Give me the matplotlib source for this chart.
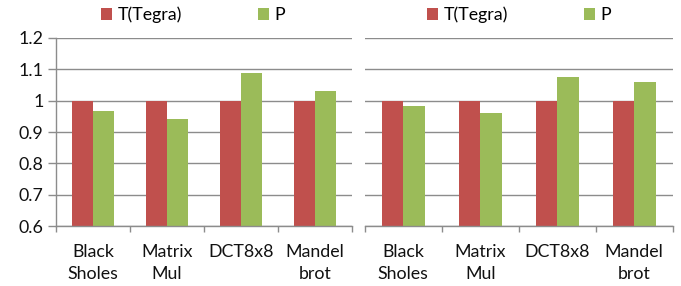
import matplotlib
matplotlib.use("Agg")
import matplotlib.pyplot as plt
import numpy as np
from matplotlib.patches import Patch

plt.rcParams['font.family'] = ['Lato', 'DejaVu Sans']

categories = ["Black\nSholes", "Matrix\nMul", "DCT8x8", "Mandel\nbrot"]
series_names = ["T(Tegra)", "P"]
left_T = [1.0, 1.0, 1.0, 1.0]
left_P = [0.966, 0.941, 1.089, 1.032]
right_T = [1.0, 1.0, 1.0, 1.0]
right_P = [0.982, 0.960, 1.075, 1.059]
yticks = [0.6, 0.7, 0.8, 0.9, 1.0, 1.1, 1.2]
ytick_labels = ["0.6", "0.7", "0.8", "0.9", "1", "1.1", "1.2"]

RED = "#C0504D"
GREEN = "#9BBB59"
GRID = "#8C8C8C"
TXT = "#111111"
FS = 12.8

fig = plt.figure(figsize=(6.81, 2.86), dpi=100)
axL = fig.add_axes([56/681, (286-226.3)/286, 296/681, 188.6/286])
axR = fig.add_axes([364.7/681, (286-226.3)/286, 308/681, 188.6/286])

bw = 0.28
for ax, T, P, show_y in [(axL, left_T, left_P, True), (axR, right_T, right_P, False)]:
    x = np.arange(len(categories))
    ax.bar(x - bw/2, np.array(T) - 0.6, bw, bottom=0.6, color=RED, zorder=3, linewidth=0)
    ax.bar(x + bw/2, np.array(P) - 0.6, bw, bottom=0.6, color=GREEN, zorder=3, linewidth=0)
    ax.set_xlim(-0.5, len(categories) - 0.5)
    ax.set_ylim(0.6, 1.2)
    ax.set_yticks(yticks)
    ax.yaxis.grid(True, color=GRID, linewidth=1.0, zorder=0)
    ax.set_axisbelow(True)
    for s in ["top", "right"]:
        ax.spines[s].set_visible(False)
    ax.spines["bottom"].set_color(GRID)
    ax.spines["bottom"].set_linewidth(1.0)
    ax.spines["bottom"].set_zorder(4)
    ax.set_xticks(np.arange(len(categories) + 1) - 0.5)
    ax.set_xticklabels([])
    ax.tick_params(axis="x", which="major", direction="out", length=4, color=GRID, width=1)
    ax.set_xticks(x, minor=True)
    ax.set_xticklabels(categories, minor=True, fontsize=FS, color=TXT, linespacing=1.45)
    ax.tick_params(axis="x", which="minor", length=0, pad=13)
    if show_y:
        ax.spines["left"].set_color(GRID)
        ax.spines["left"].set_linewidth(1.0)
        ax.set_yticklabels(ytick_labels, fontsize=FS, color=TXT)
        ax.tick_params(axis="y", direction="out", length=6, color=GRID, width=1, pad=3)
    else:
        ax.spines["left"].set_visible(False)
        ax.set_yticklabels([])
        ax.tick_params(axis="y", length=0)

handles = [Patch(facecolor=RED, edgecolor="none"), Patch(facecolor=GREEN, edgecolor="none")]
for cx in [193/681, 519/681]:
    fig.legend(handles, series_names, loc="center", bbox_to_anchor=(cx, 1 - 15/286),
               ncol=2, frameon=False, fontsize=FS, handlelength=0.6, handleheight=0.6,
               handletextpad=0.3, columnspacing=4.3, borderaxespad=0, borderpad=0)

fig.savefig("out.png", dpi=100)
